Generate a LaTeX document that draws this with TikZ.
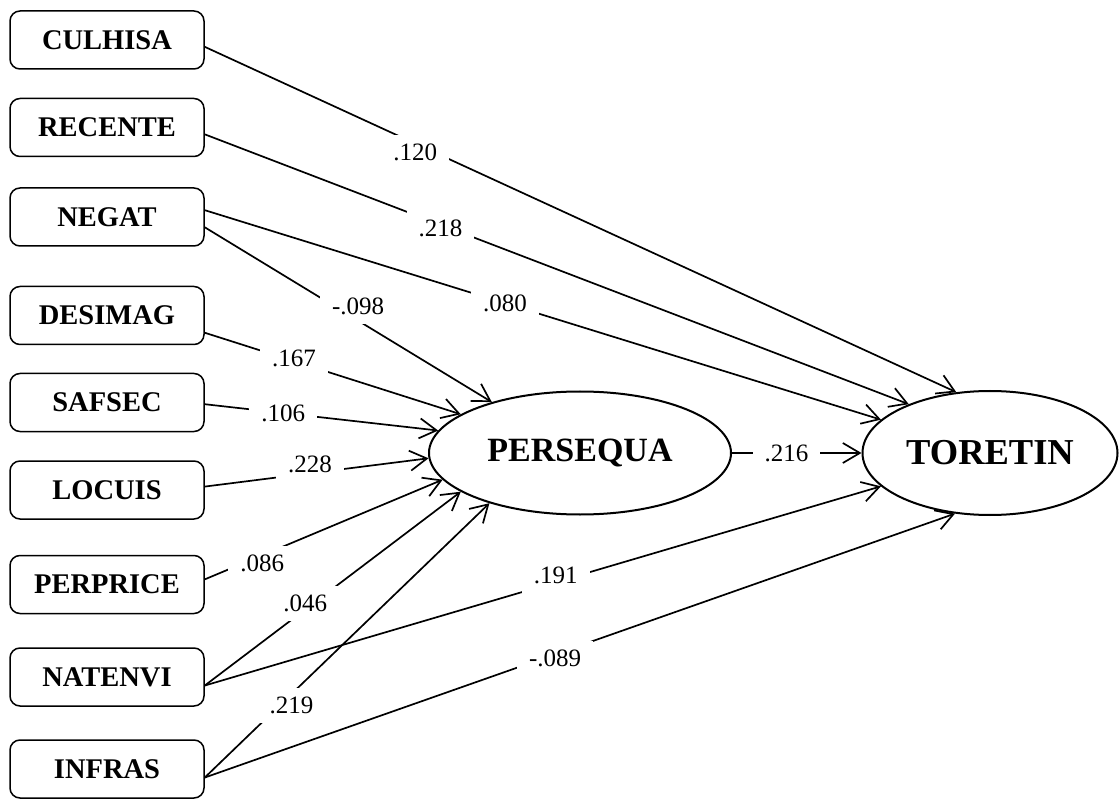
\documentclass[tikz,border=0pt]{standalone}
\usepackage{fontspec}
\setmainfont{Liberation Serif}
\usetikzlibrary{arrows.meta,shapes.geometric}

\begin{document}
\begin{tikzpicture}[x=1pt,y=-1pt,
		var/.style={draw,rounded corners=10pt,line width=1.5pt,minimum width=194pt,minimum height=58pt,inner sep=0pt,font=\fontsize{28.5}{30}\selectfont\bfseries},
		lat/.style={draw,ellipse,line width=2pt,inner sep=0pt},
		effect/.style={line width=1.7pt,-{Straight Barb[length=17pt,width=20pt]}},
		coef/.style={fill=white,inner xsep=12pt,inner ysep=9pt,font=\fontsize{25}{27}\selectfont}]
		\useasboundingbox (0,0) rectangle (1119,799);

		\node[var] (culhisa)  at (107,40)    {CULHISA};
		\node[var] (recente)  at (107,127.5) {RECENTE};
		\node[var] (negat)    at (107,217)   {NEGAT};
		\node[var] (desimag)  at (107,315.5) {DESIMAG};
		\node[var] (safsec)   at (107,402.5) {SAFSEC};
		\node[var] (locuis)   at (107,490)   {LOCUIS};
		\node[var] (perprice) at (107,584.5) {PERPRICE};
		\node[var] (natenvi)  at (107,677)   {NATENVI};
		\node[var] (infras)   at (107,769)   {INFRAS};

		\node[lat,minimum width=302pt,minimum height=123pt,font=\fontsize{34}{36}\selectfont\bfseries]
			(persequa) at (580,453) {PERSEQUA};
		\node[lat,minimum width=255pt,minimum height=124pt,font=\fontsize{36.5}{38}\selectfont\bfseries]
			(toretin) at (990,453) {TORETIN};

		\draw[effect] (culhisa.-4) -- node[coef,pos=.28,yshift=-9pt] {.120} (toretin.119);
		\draw[effect] (recente.-4) -- node[coef,pos=.335,yshift=-4pt] {.218} (toretin.149);
		\draw[effect] (negat.4) -- node[coef,pos=.444] {.080} (toretin.163);
		\draw[effect] (negat.-6) -- node[coef,pos=.51,xshift=7pt,yshift=10pt] {-.098} (persequa.150);
		\draw[effect] (desimag.-10) -- node[coef,pos=.349,yshift=3pt] {.167} (persequa.162);
		\draw[effect] (safsec.-1) -- node[coef,pos=.336] {.106} (persequa.171);
		\draw[effect] (locuis.2) -- node[coef,pos=.47,yshift=9pt] {.228} (persequa.182);
		\draw[effect] (perprice.3) -- node[coef,pos=.229,xshift=3pt,yshift=-7pt] {.086} (persequa.191);
		\draw[effect] (natenvi.-5) -- node[coef,pos=.404,xshift=-3pt,yshift=4pt] {.046} (persequa.198);
		\draw[effect] (infras.-5) -- node[coef,pos=.284,xshift=6pt,yshift=-6pt] {.219} (persequa.209);
		\draw[effect] (natenvi.-5) -- node[coef,pos=.519,yshift=7pt] {.191} (toretin.197);
		\draw[effect] (infras.-5) -- node[coef,pos=.467,yshift=-4pt] {-.089} (toretin.240);
		\draw[effect] (persequa.east) -- node[coef,pos=.42] {.216} (toretin.west);
	\end{tikzpicture}
\end{document}
